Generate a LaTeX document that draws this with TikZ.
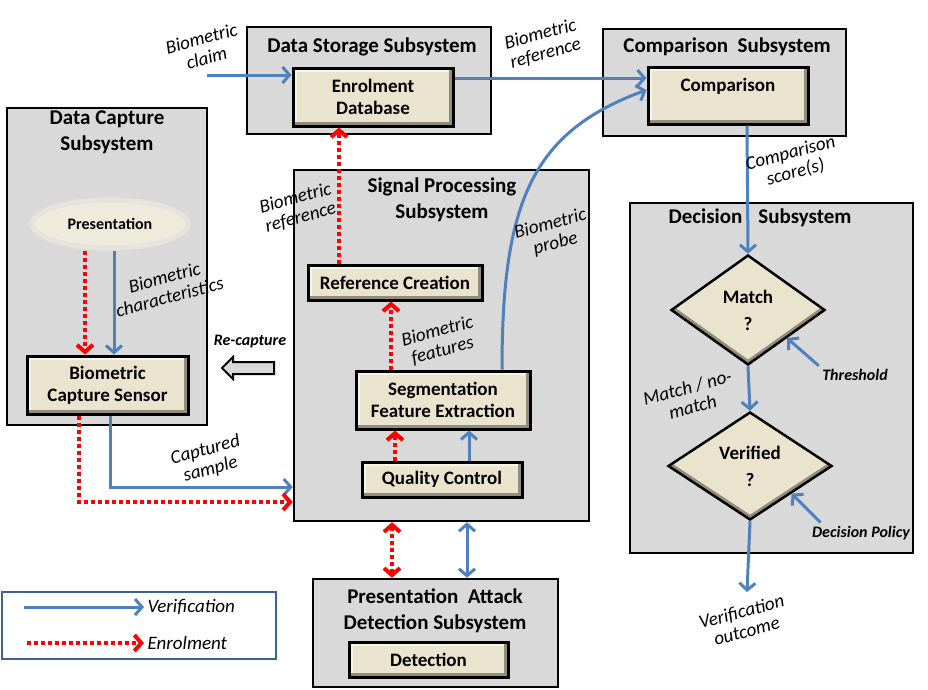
\documentclass[tikz,border=0pt]{standalone}
\usepackage{fontspec}
\setmainfont{Carlito}
\usetikzlibrary{positioning,fit,arrows.meta,shapes.geometric,shapes.arrows}

\definecolor{boxgray}{HTML}{D9D9D9}
\definecolor{unitfill}{HTML}{EAE4CF}
\definecolor{unitdark}{HTML}{938D7C}
\definecolor{unitlight}{HTML}{F7F4EA}
\definecolor{presfill}{HTML}{EEEBDD}
\definecolor{flowblue}{HTML}{4F81BD}
\definecolor{enrolred}{HTML}{FF0000}
\definecolor{legendblue}{HTML}{3F6193}

\tikzset{
	barb/.tip={Straight Barb[length=7pt,width=16pt]},
	subsys/.style={draw=black, line width=2.5pt, fill=boxgray, inner sep=0pt},
	sstitle/.style={font=\fontsize{21}{26}\selectfont\bfseries, align=center},
	unit/.style={draw=black, line width=3pt, fill=unitfill, inner sep=0pt, align=center,
		font=\fontsize{19}{22}\selectfont\bfseries,
		path picture={
			\draw[unitlight, line width=8pt] (path picture bounding box.south west) -- (path picture bounding box.north west) -- (path picture bounding box.north east);
			\draw[unitdark, line width=8pt] (path picture bounding box.south west) -- (path picture bounding box.south east) -- (path picture bounding box.north east);
		}},
	decide/.style={shape=diamond, draw=black, line width=2.5pt, fill=unitfill, inner sep=0pt, align=center,
		font=\fontsize{19}{27}\selectfont\bfseries,
		path picture={
			\draw[unitdark, line width=8pt] (path picture bounding box.west) -- (path picture bounding box.south) -- (path picture bounding box.east);
		}},
	flow/.style={draw=flowblue, line width=3pt, -barb},
	enrol/.style={draw=enrolred, line width=4pt, dash pattern=on 4pt off 3pt, -barb},
	lbl/.style={font=\fontsize{19}{20}\selectfont\itshape, rotate=15, align=center},
	note/.style={font=\fontsize{16}{18}\selectfont\bfseries\itshape},
}

\begin{document}
\begin{tikzpicture}[x=1pt, y=-1pt]
	\useasboundingbox (0,0) rectangle (928,689);

	%% DATA STORAGE
	\node[subsys, fit={(247,27)(491,134)}](data_storage){};
	\node[sstitle] at (372,47){Data Storage Subsystem};
	\node[unit, minimum width=160pt, minimum height=58pt](enrol_db) at (373,97){Enrolment\\Database};

	%% COMPARISON
	\node[subsys, fit={(603,29)(846,136)}](comparison){};
	\node[sstitle] at (727,47){Comparison\ \ Subsystem};
	\node[unit, minimum width=160pt, minimum height=57pt](cmp) at (728,95.5){Comparison\\~};

	%% DATA CAPTURE
	\node[subsys, fit={(7,108)(207,425)}](data_capture){};
	\node[sstitle] at (107,132){Data Capture\\Subsystem};
	\node[ellipse, fill=presfill, draw=presfill!55!boxgray, line width=5pt, minimum width=156pt, minimum height=48pt,
		font=\fontsize{16}{18}\selectfont\bfseries](pres) at (110,224){Presentation};
	\node[unit, minimum width=161pt, minimum height=58pt](sensor) at (107.5,385){Biometric\\Capture Sensor};

	%% SIGNAL PROCESSING
	\node[subsys, fit={(294,170)(589,521)}](signal_proc){};
	\node[sstitle] at (442,200){Signal Processing\\Subsystem};
	\node[unit, minimum width=174pt, minimum height=35pt](refc) at (395,282.5){Reference Creation};
	\node[unit, minimum width=174pt, minimum height=58pt](seg) at (443,400){Segmentation\\Feature Extraction};
	\node[unit, minimum width=160pt, minimum height=35pt](qc) at (442,479.5){Quality Control};

	%% DECISION
	\node[subsys, fit={(630,203)(913,553)}](decision){};
	\node[sstitle] at (760,218){Decision\hspace{16pt}Subsystem};
	\node[decide, minimum width=154pt, minimum height=110pt](match) at (748,310){Match\\?};
	\node[decide, minimum width=164pt, minimum height=108pt](verified) at (750,466){Verified\\?};
	\node[note](threshold) at (855,375){Threshold};
	\node[note](policy) at (861,533){Decision Policy};

	%% PRESENTATION ATTACK DETECTION
	\node[subsys, fit={(313,579)(558,687)}](pad){};
	\node[sstitle] at (435,611){Presentation\ \ Attack\\Detection Subsystem};
	\node[unit, minimum width=159pt, minimum height=35pt](detection) at (428.5,659.5){Detection};

	%% VERIFICATION FLOW
	\coordinate (claim_start) at (207,75);
	\draw[flow] (claim_start) -- ([yshift=22pt]enrol_db.west);
	\draw[flow] ([yshift=19pt]enrol_db.east) -- ([yshift=17.5pt]cmp.west);
	\draw[flow] ([xshift=4pt]pres.south) -- ([xshift=6.5pt]sensor.north);
	\draw[flow] ([xshift=3pt]sensor.south) |- ([yshift=-141.5pt]signal_proc.west);
	\draw[flow] ([xshift=27pt]qc.north) -- ([xshift=26pt]seg.south);
	\draw[flow] ([xshift=59pt]seg.north) to[out=90, in=200, out looseness=1.35, in looseness=1] ([yshift=5.5pt]cmp.west);
	\draw[flow, barb-barb] ([xshift=25.5pt]signal_proc.south) -- ([xshift=31.5pt]pad.north);
	\draw[flow] ([xshift=19pt]cmp.south) -- (match.north);
	\draw[flow] (match.south) -- (verified.north);
	\coordinate (outcome_tip) at (747,592);
	\draw[flow] (verified.south) -- (outcome_tip);
	\draw[flow] (threshold.north west) -- (match.south east);
	\draw[flow] ([xshift=12pt]policy.north west) -- (verified.south east);

	%% ENROLMENT FLOW
	\draw[enrol] ([xshift=-25pt]pres.south) -- ([xshift=-22.5pt]sensor.north);
	\draw[enrol] ([xshift=-28.5pt]sensor.south) |- ([yshift=-156.5pt]signal_proc.west);
	\draw[enrol] ([xshift=-47pt]qc.north) -- ([xshift=-48pt]seg.south);
	\draw[enrol] ([xshift=-52pt]seg.north) -- ([xshift=-4pt]refc.south);
	\draw[enrol] ([xshift=-56pt]refc.north) -- ([xshift=-34pt]enrol_db.south);
	\draw[enrol, barb-barb] ([xshift=-49.5pt]signal_proc.south) -- ([xshift=-43.5pt]pad.north);

	%% RE-CAPTURE
	\node[single arrow, draw=black, line width=2pt, fill=boxgray, shape border rotate=180,
		minimum height=52pt, minimum width=22pt, single arrow head extend=5pt, inner sep=5pt](recap_arrow) at (251,368){};
	\node[note] at (250,342){Re-capture};

	%% LABELS
	\node[lbl] at (204,48){Biometric\\claim};
	\node[lbl] at (543,44){Biometric\\reference};
	\node[lbl] at (298,208){Biometric\\reference};
	\node[lbl] at (167,287){Biometric\\characteristics};
	\node[lbl] at (208,460){Captured\\sample};
	\node[lbl] at (440,341){Biometric\\features};
	\node[lbl] at (553,234){Biometric\\probe};
	\node[lbl] at (793,163){Comparison\\score(s)};
	\node[lbl] at (690,397){Match / no-\\match};
	\node[lbl] at (744,621){Verification\\outcome};

	%% LEGEND
	\node[draw=legendblue, line width=2.5pt, inner sep=0pt, fit={(2,592)(276,659)}](legend){};
	\coordinate (leg_verif_start) at (24,607);
	\coordinate (leg_enrol_start) at (27,643);
	\node[anchor=west, font=\fontsize{19}{20}\selectfont\itshape](leg_verif) at (144,607){Verification};
	\node[anchor=west, font=\fontsize{19}{20}\selectfont\itshape](leg_enrol) at (144,643){Enrolment};
	\draw[flow] (leg_verif_start) -- (leg_verif.west);
	\draw[enrol] (leg_enrol_start) -- (leg_enrol.west);

\end{tikzpicture}
\end{document}
